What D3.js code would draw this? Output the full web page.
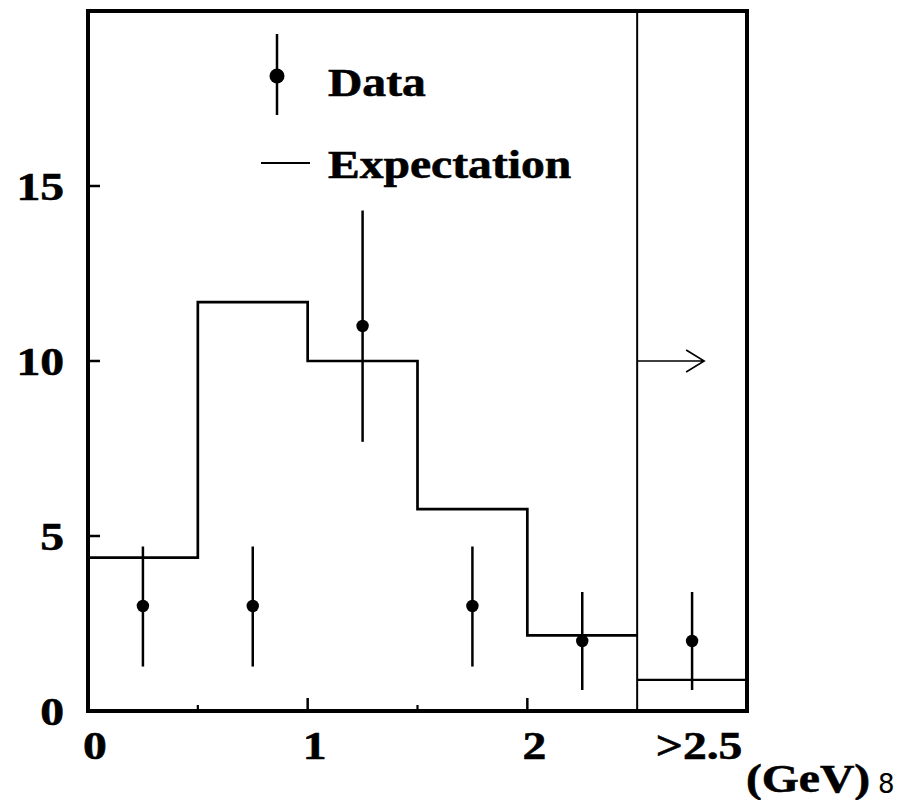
<!DOCTYPE html>
<html>
<head>
<meta charset="utf-8">
<script src="https://cdn.jsdelivr.net/npm/d3@7"></script>
<style>
  body { margin: 0; background: #fff; }
  text.lbl { font-family: "Liberation Serif", Tinos, "Times New Roman", Times, serif; font-weight: 700; fill: #000; stroke: #000; stroke-width: 0.6px; }
</style>
</head>
<body>
<script>
// bin edges (GeV), last bin is overflow ">2.5"
var binEdges = [0, 0.5, 1, 1.5, 2, 2.5, 3];
var expected = [4.38, 11.68, 10.0, 5.77, 2.16, 0.89];

// data points: bin centres, counts and error bar ends
var dataX = [0.25, 0.75, 1.25, 1.75, 2.25, 2.75];
var dataY = [3, 3, 11, 3, 2, 2];
var errLow = [1.27, 1.27, 7.69, 1.27, 0.6, 0.6];
var errHigh = [4.7, 4.7, 14.3, 4.7, 3.4, 3.4];

var yTicks = [0, 5, 10, 15];
var xMajorTicks = [1, 2];
var xMinorTicks = [0.5, 1.5];
var xLabels = [
  {v: 0, t: "0"},
  {v: 1, t: "1"},
  {v: 2, t: "2"},
  {v: 2.75, t: ">2.5"}
];
var overflowEdge = 2.5;
var arrowLevel = 10;

var W = 915, H = 800;
var stretch = 1.19; // the original lettering is wide

var svg = d3.select("body").append("svg")
  .attr("width", W)
  .attr("height", H);

var x = d3.scaleLinear().domain([0, 3]).range([88, 747]);
var y = d3.scaleLinear().domain([0, 20]).range([711, 11]);

function label(px, py, str, size, anchor) {
  return svg.append("text")
    .attr("class", "lbl")
    .attr("transform", "translate(" + px + "," + py + ") scale(" + stretch + ",1)")
    .attr("text-anchor", anchor || "start")
    .style("font-size", size + "px")
    .text(str);
}

// expectation histogram (step line)
var steps = [];
expected.forEach(function(v, i) {
  steps.push([binEdges[i], v]);
  steps.push([binEdges[i + 1], v]);
});
var line = d3.line()
  .x(function(d) { return x(d[0]); })
  .y(function(d) { return y(d[1]); });

svg.append("path")
  .datum([[0, 0]].concat(steps.slice(0, 10)))
  .attr("d", line)
  .attr("fill", "none")
  .attr("stroke", "#000")
  .attr("stroke-width", 2.7);

svg.append("line")
  .attr("x1", x(overflowEdge)).attr("x2", x(3))
  .attr("y1", y(expected[5])).attr("y2", y(expected[5]))
  .attr("stroke", "#000").attr("stroke-width", 2.2);

// overflow separator and arrow
svg.append("line")
  .attr("x1", x(overflowEdge)).attr("x2", x(overflowEdge))
  .attr("y1", y(20)).attr("y2", y(0))
  .attr("stroke", "#000").attr("stroke-width", 2);

var ax = x(overflowEdge), ay = y(arrowLevel);
svg.append("path")
  .attr("d", "M" + ax + "," + ay + "H" + (ax + 67) +
    "M" + (ax + 49) + "," + (ay - 11) + "L" + (ax + 67) + "," + ay + "L" + (ax + 49) + "," + (ay + 11))
  .attr("fill", "none")
  .attr("stroke", "#000")
  .attr("stroke-width", 1.6);

// data points with error bars
var pts = dataX.map(function(v, i) {
  return {x: v, y: dataY[i], lo: errLow[i], hi: errHigh[i]};
});
var g = svg.selectAll(".pt").data(pts).enter().append("g");
g.append("line")
  .attr("x1", function(d) { return x(d.x); })
  .attr("x2", function(d) { return x(d.x); })
  .attr("y1", function(d) { return y(d.hi); })
  .attr("y2", function(d) { return y(d.lo); })
  .attr("stroke", "#000").attr("stroke-width", 2.5);
g.append("circle")
  .attr("cx", function(d) { return x(d.x); })
  .attr("cy", function(d) { return y(d.y); })
  .attr("r", 6.2)
  .attr("fill", "#000");

// ticks
svg.selectAll(".yt").data(yTicks.slice(1)).enter().append("line")
  .attr("x1", x(0)).attr("x2", x(0) + 12)
  .attr("y1", function(d) { return y(d); })
  .attr("y2", function(d) { return y(d); })
  .attr("stroke", "#000").attr("stroke-width", 2.5);
svg.selectAll(".xt").data(xMajorTicks).enter().append("line")
  .attr("x1", function(d) { return x(d); })
  .attr("x2", function(d) { return x(d); })
  .attr("y1", y(0)).attr("y2", y(0) - 13)
  .attr("stroke", "#000").attr("stroke-width", 2.5);
svg.selectAll(".xm").data(xMinorTicks).enter().append("line")
  .attr("x1", function(d) { return x(d); })
  .attr("x2", function(d) { return x(d); })
  .attr("y1", y(0)).attr("y2", y(0) - 6)
  .attr("stroke", "#000").attr("stroke-width", 2.2);

// frame
svg.append("rect")
  .attr("x", x(0)).attr("y", y(20))
  .attr("width", x(3) - x(0)).attr("height", y(0) - y(20))
  .attr("fill", "none")
  .attr("stroke", "#000")
  .attr("stroke-width", 4);

// tick labels
yTicks.forEach(function(v) {
  label(64, y(v) + 13.5, String(v), 40, "end");
});
xLabels.forEach(function(d) {
  label(x(d.v) + 7, 759, d.t, 40, "middle");
});
label(746, 792, "(GeV)", 40);

svg.append("text")
  .attr("x", 878).attr("y", 793)
  .style("font-family", "'DejaVu Sans', sans-serif")
  .style("font-size", "26px")
  .text("8");

// legend
svg.append("line")
  .attr("x1", 277).attr("x2", 277).attr("y1", 34).attr("y2", 115)
  .attr("stroke", "#000").attr("stroke-width", 2.5);
svg.append("circle")
  .attr("cx", 277).attr("cy", 76).attr("r", 7.5).attr("fill", "#000");
label(328, 96, "Data", 40);

svg.append("line")
  .attr("x1", 261).attr("x2", 310).attr("y1", 163).attr("y2", 163)
  .attr("stroke", "#000").attr("stroke-width", 2.2);
label(328, 178, "Expectation", 40);
</script>
</body>
</html>
